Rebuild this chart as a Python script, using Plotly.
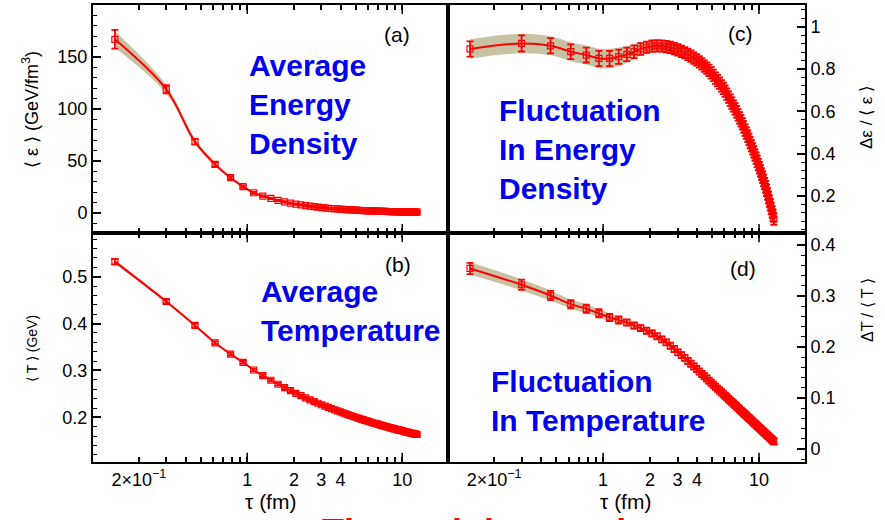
import plotly.graph_objects as go

# ---------------- data ----------------
tau = [0.14, 0.30, 0.46, 0.62, 0.78, 0.94, 1.10, 1.26, 1.42, 1.58,
       1.74, 1.90, 2.06, 2.22, 2.38, 2.54, 2.70, 2.86, 3.02, 3.18,
       3.34, 3.50, 3.66, 3.82, 3.98, 4.14, 4.30, 4.46, 4.62, 4.78,
       4.94, 5.10, 5.26, 5.42, 5.58, 5.74, 5.90, 6.06, 6.22, 6.38,
       6.54, 6.70, 6.86, 7.02, 7.18, 7.34, 7.50, 7.66, 7.82, 7.98,
       8.14, 8.30, 8.46, 8.62, 8.78, 8.94, 9.10, 9.26, 9.42, 9.58,
       9.74, 9.90, 10.06, 10.22, 10.38, 10.54, 10.70, 10.86, 11.02, 11.18,
       11.34, 11.50, 11.66, 11.82, 11.98, 12.14, 12.30, 12.46]

# (a) average energy density  <eps>  (GeV/fm^3)
eps_avg = [167, 119, 68.6, 46.8, 34.0, 25.3, 19.5, 16.3, 14.0, 12.2,
           10.7, 9.6, 8.6, 7.8, 7.2, 6.6, 6.1, 5.6, 5.2, 4.9,
           4.6, 4.3, 4.1, 3.9, 3.7, 3.5, 3.3, 3.2, 3.0, 2.9,
           2.8, 2.7, 2.55, 2.45, 2.36, 2.28, 2.2, 2.12, 2.05, 1.98,
           1.92, 1.86, 1.81, 1.75, 1.70, 1.65, 1.61, 1.56, 1.52, 1.48,
           1.45, 1.41, 1.37, 1.34, 1.31, 1.28, 1.25, 1.22, 1.20, 1.17,
           1.14, 1.12, 1.10, 1.08, 1.06, 1.04, 1.02, 1.00, 0.98, 0.96,
           0.95, 0.93, 0.91, 0.90, 0.88, 0.87, 0.85, 0.84]
eps_err = [9, 4, 2.5, 2, 1.5, 1.2, 1.0] + [0.7] * 71
eps_band = [8, 4, 2.5, 2, 1.5, 1.2, 1.0] + [0.7] * 71

# (b) average temperature <T> (GeV)
T_avg = [0.532, 0.447, 0.396, 0.359, 0.335, 0.3175, 0.301, 0.2891, 0.2792, 0.2707,
         0.2634, 0.2571, 0.2514, 0.2463, 0.2417, 0.2375, 0.2337, 0.2302, 0.2270, 0.2240,
         0.2212, 0.2186, 0.2162, 0.2139, 0.2117, 0.2097, 0.2077, 0.2059, 0.2041, 0.2025,
         0.2009, 0.1993, 0.1979, 0.1965, 0.1951, 0.1939, 0.1926, 0.1914, 0.1902, 0.1891,
         0.1881, 0.1870, 0.1861, 0.1851, 0.1841, 0.1832, 0.1824, 0.1815, 0.1807, 0.1798,
         0.1791, 0.1783, 0.1776, 0.1768, 0.1761, 0.1755, 0.1748, 0.1741, 0.1735, 0.1729,
         0.1723, 0.1717, 0.1711, 0.1705, 0.1699, 0.1694, 0.1689, 0.1683, 0.1678, 0.1673,
         0.1668, 0.1663, 0.1658, 0.1654, 0.1649, 0.1645, 0.1640, 0.1636]
T_err = [0.006, 0.004, 0.004] + [0.003] * 75
T_band = [0.004, 0.003, 0.003] + [0.002] * 75

# (c) fluctuation in energy density  d_eps/<eps>
eps_fluc = [0.895, 0.921, 0.910, 0.882, 0.866, 0.850, 0.850, 0.858, 0.869, 0.882,
            0.895, 0.903, 0.908, 0.910, 0.909, 0.906, 0.902, 0.897, 0.891, 0.884,
            0.877, 0.869, 0.861, 0.852, 0.843, 0.834, 0.824, 0.814, 0.804, 0.794,
            0.782, 0.770, 0.757, 0.745, 0.733, 0.720, 0.708, 0.695, 0.681, 0.667,
            0.653, 0.639, 0.625, 0.611, 0.597, 0.583, 0.569, 0.555, 0.541, 0.526,
            0.511, 0.497, 0.482, 0.467, 0.452, 0.437, 0.422, 0.408, 0.393, 0.378,
            0.363, 0.348, 0.333, 0.318, 0.303, 0.288, 0.273, 0.258, 0.243, 0.226,
            0.209, 0.192, 0.175, 0.158, 0.141, 0.124, 0.107, 0.090]
eps_fluc_err = [0.036, 0.038, 0.036, 0.035, 0.035, 0.036, 0.036, 0.034, 0.032, 0.030,
                0.028, 0.027] + [0.027] * 66
eps_fluc_band = [0.046, 0.046, 0.045, 0.045, 0.045, 0.046, 0.046, 0.044, 0.040, 0.036,
                 0.032, 0.030] + [0.027] * 66

# (d) fluctuation in temperature  dT/<T>
T_fluc = [0.354, 0.322, 0.301, 0.284, 0.275, 0.266, 0.258, 0.253, 0.248, 0.242,
          0.237, 0.232, 0.2265, 0.221, 0.215, 0.209, 0.2025, 0.196, 0.1895, 0.184,
          0.1787, 0.1728, 0.1673, 0.1619, 0.1568, 0.1519, 0.1472, 0.1427, 0.1383, 0.1340,
          0.1299, 0.1260, 0.1221, 0.1184, 0.1148, 0.1113, 0.1078, 0.1045, 0.1013, 0.0981,
          0.0950, 0.0920, 0.0891, 0.0862, 0.0834, 0.0806, 0.0779, 0.0753, 0.0728, 0.0702,
          0.0678, 0.0653, 0.0630, 0.0606, 0.0583, 0.0561, 0.0539, 0.0517, 0.0496, 0.0475,
          0.0454, 0.0434, 0.0414, 0.0394, 0.0375, 0.0356, 0.0337, 0.0319, 0.0301, 0.0283,
          0.0265, 0.0248, 0.0230, 0.0213, 0.0197, 0.0180, 0.0164, 0.0148]
T_fluc_err = [0.011, 0.010, 0.009, 0.008, 0.008, 0.008, 0.007, 0.007, 0.006, 0.006] + [0.006] * 68
T_fluc_band = [0.012, 0.011, 0.010, 0.009, 0.009, 0.008, 0.008, 0.007, 0.007, 0.006] + [0.005] * 68

xtick_vals = [0.2, 1, 2, 3, 4, 10]
xtick_text = ["2\u00d710<sup>\u22121</sup>", "1", "2", "3", "4", "10"]
xminor_vals = [0.3, 0.4, 0.5, 0.6, 0.7, 0.8, 0.9, 5, 6, 7, 8, 9, 20]
xmajor_long = [1, 10]

for arr in (eps_avg, eps_err, eps_band, T_avg, T_err, T_band, eps_fluc, eps_fluc_err,
            eps_fluc_band, T_fluc, T_fluc_err, T_fluc_band):
    assert len(arr) == len(tau), len(arr)

# ---------------- style ----------------
RED = "#ff0000"
BAND = "rgb(200,194,164)"
BLUE = "#0000f0"
FONT = "Liberation Sans, Arial, sans-serif"
W, H = 885, 520

fig = go.Figure()


def add_panel(x, y, err, band, xa, ya):
    lo = [v - b for v, b in zip(y, band)]
    hi = [v + b for v, b in zip(y, band)]
    fig.add_trace(go.Scatter(x=x, y=lo, xaxis=xa, yaxis=ya, mode="lines",
                             line=dict(width=0, shape="spline", color=BAND),
                             showlegend=False, hoverinfo="skip"))
    fig.add_trace(go.Scatter(x=x, y=hi, xaxis=xa, yaxis=ya, mode="lines",
                             line=dict(width=0, shape="spline", color=BAND),
                             fill="tonexty", fillcolor=BAND,
                             showlegend=False, hoverinfo="skip"))
    fig.add_trace(go.Scatter(x=x, y=y, xaxis=xa, yaxis=ya, mode="lines+markers",
                             line=dict(color=RED, width=2, shape="spline"),
                             marker=dict(symbol="square-open", size=6, color=RED,
                                         line=dict(width=1.2, color=RED)),
                             error_y=dict(type="data", array=err, color=RED,
                                          thickness=1.8, width=3.5),
                             showlegend=False))


add_panel(tau, eps_avg, eps_err, eps_band, "x", "y")
add_panel(tau, eps_fluc, eps_fluc_err, eps_fluc_band, "x2", "y2")
add_panel(tau, T_avg, T_err, T_band, "x3", "y3")
add_panel(tau, T_fluc, T_fluc_err, T_fluc_band, "x4", "y4")

# domains (pixels -> paper)
xl = [93 / W, 448 / W]
xr = [448 / W, 805 / W]
yt = [1 - 233 / H, 1 - 5 / H]
yb = [1 - 462 / H, 1 - 233 / H]

tickfont = dict(family=FONT, size=18, color="black")


def xaxis(domain, anchor, labels):
    return dict(domain=domain, anchor=anchor, type="log", range=[-0.995, 1.295],
                showline=True, linecolor="black", linewidth=2, mirror="ticks",
                ticks="inside", ticklen=5, tickwidth=1.5, tickcolor="black",
                tickvals=xtick_vals, ticktext=xtick_text, showticklabels=labels,
                showgrid=False, zeroline=False, tickfont=tickfont,
                minor=dict(tickvals=xminor_vals, ticks="inside", ticklen=5,
                           tickwidth=1.5, tickcolor="black", showgrid=False))


def yaxis(domain, anchor, side, rng, tvals, ttext, minor_dtick):
    return dict(domain=domain, anchor=anchor, side=side, range=rng,
                showline=True, linecolor="black", linewidth=2, mirror=True,
                ticks="inside", ticklen=8, tickwidth=1.5, tickcolor="black",
                tickvals=tvals, ticktext=ttext, showgrid=False, zeroline=False,
                tickfont=tickfont,
                minor=dict(dtick=minor_dtick, tick0=0, ticks="inside", ticklen=4,
                           tickwidth=1.2, tickcolor="black", showgrid=False))


fig.update_layout(
    width=W, height=H, margin=dict(l=0, r=0, t=0, b=0),
    paper_bgcolor="white", plot_bgcolor="white", showlegend=False,
    font=dict(family=FONT, color="black"),
    xaxis=xaxis(xl, "y", False),
    xaxis2=xaxis(xr, "y2", False),
    xaxis3=xaxis(xl, "y3", True),
    xaxis4=xaxis(xr, "y4", True),
    yaxis=yaxis(yt, "x", "left", [-19.2, 200], [0, 50, 100, 150],
                ["0", "50", "100", "150"], 10),
    yaxis2=yaxis(yt, "x2", "right", [0.024, 1.103], [0.2, 0.4, 0.6, 0.8, 1.0],
                 ["0.2", "0.4", "0.6", "0.8", "1"], 0.04),
    yaxis3=yaxis(yb, "x3", "left", [0.105, 0.593], [0.2, 0.3, 0.4, 0.5],
                 ["0.2", "0.3", "0.4", "0.5"], 0.02),
    yaxis4=yaxis(yb, "x4", "right", [-0.0255, 0.4235], [0, 0.1, 0.2, 0.3, 0.4],
                 ["0", "0.1", "0.2", "0.3", "0.4"], 0.02),
)

# longer ticks at the decades (1 and 10), top and bottom of every frame
shapes = []
for xr_ref, yr_ref in (("x", "y"), ("x2", "y2"), ("x3", "y3"), ("x4", "y4")):
    for xv in xmajor_long:
        for y0, y1 in ((0, 0.04), (1, 0.96)):
            shapes.append(dict(type="line", xref=xr_ref, yref=yr_ref + " domain",
                               x0=xv, x1=xv, y0=y0, y1=y1,
                               line=dict(color="black", width=1.5)))
fig.update_layout(shapes=shapes)


def px(x, y):
    return x / W, 1 - y / H


def ann(text, x, y, size, color="black", xanchor="center", yanchor="middle",
        angle=0, align="left"):
    ax, ay = px(x, y)
    fig.add_annotation(text=text, x=ax, y=ay, xref="paper", yref="paper",
                       xanchor=xanchor, yanchor=yanchor, showarrow=False,
                       textangle=angle, align=align,
                       font=dict(family=FONT, size=size, color=color))


# panel labels
ann("(a)", 397, 35, 21)
ann("(c)", 740, 34, 21)
ann("(b)", 398, 264, 21)
ann("(d)", 743, 268, 21)

# blue captions
ann("<b>Average<br>Energy<br>Density</b>", 247, 105, 30, BLUE, xanchor="left")
ann("<b>Fluctuation<br>In Energy<br>Density</b>", 497, 149, 30, BLUE, xanchor="left")
ann("<b>Average<br>Temperature</b>", 259, 311, 30, BLUE, xanchor="left")
ann("<b>Fluctuation<br>In Temperature</b>", 489, 401, 30, BLUE, xanchor="left")

# axis titles
ann("\u27e8 \u03b5 \u27e9 (GeV/fm<sup>3</sup>)", 30, 110, 18, angle=-90)
ann("\u27e8 T \u27e9 (GeV)", 32, 349, 14, angle=-90)
ann("\u0394\u03b5 / \u27e8 \u03b5 \u27e9", 867, 117, 17, angle=-90)
ann("\u0394T / \u27e8 T \u27e9", 867, 310, 16, angle=-90)
ann("\u03c4 (fm)", 270, 501, 21)
ann("\u03c4 (fm)", 625, 501, 21)

# partially visible red caption at the bottom edge
ann("<b>Thermal time scale</b>", 320, 532, 36, RED, xanchor="left")

fig.write_html("out.html")
